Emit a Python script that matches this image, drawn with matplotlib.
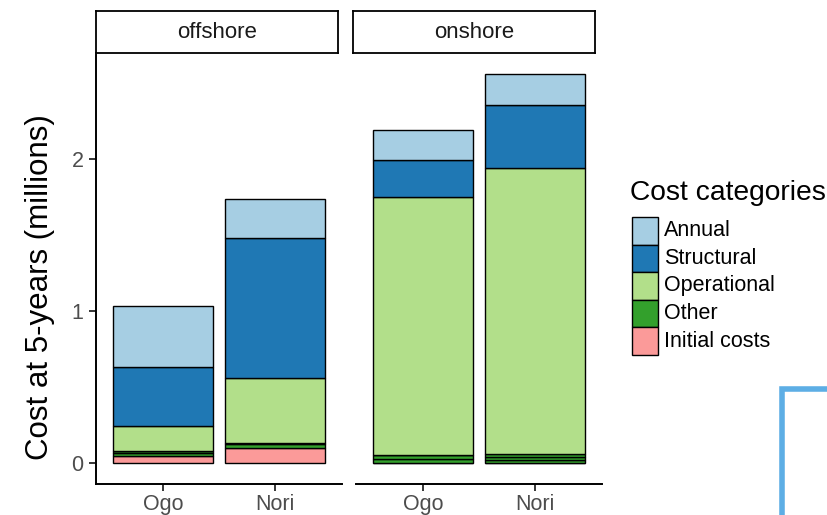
import numpy as np
import matplotlib
matplotlib.use("Agg")
import matplotlib.pyplot as plt
from matplotlib.patches import Rectangle
from matplotlib.lines import Line2D

plt.rcParams["font.family"] = ["Liberation Sans", "DejaVu Sans"]

# data (millions), one entry per bar: offshore Ogo, offshore Nori, onshore Ogo, onshore Nori
facets = ["offshore", "offshore", "onshore", "onshore"]
sites = ["Ogo", "Nori", "Ogo", "Nori"]
initial = [0.045, 0.098, 0.0, 0.0]
other_1 = [0.018, 0.028, 0.028, 0.020]
other_2 = [0.015, 0.005, 0.028, 0.020]
other_3 = [0.0, 0.0, 0.0, 0.020]
operational = [0.165, 0.426, 1.694, 1.880]
structural = [0.387, 0.925, 0.244, 0.414]
annual = [0.406, 0.256, 0.196, 0.203]

categories = ["Annual", "Structural", "Operational", "Other", "Initial costs"]
colors = {
    "Annual": "#A6CEE3",
    "Structural": "#1F78B4",
    "Operational": "#B2DF8A",
    "Other": "#33A02C",
    "Initial costs": "#FB9A99",
}
# stacking order bottom -> top
stack = [
    ("Initial costs", initial),
    ("Other", other_1),
    ("Other", other_2),
    ("Other", other_3),
    ("Operational", operational),
    ("Structural", structural),
    ("Annual", annual),
]

W, H = 828, 515
fig = plt.figure(figsize=(W / 100, H / 100), dpi=100)


def px(x0, y0, x1, y1):
    return [x0 / W, 1 - y1 / H, (x1 - x0) / W, (y1 - y0) / H]


tick_grey = "#4D4D4D"
panels = [("offshore", (96, 55, 342, 484), (96, 11, 338, 53)),
          ("onshore", (356, 55, 602, 484), (353, 11, 595, 53))]

for i, (name, pbox, sbox) in enumerate(panels):
    ax = fig.add_axes(px(*pbox))
    idx = [k for k, f in enumerate(facets) if f == name]
    xs = np.arange(1, len(idx) + 1)
    bottom = np.zeros(len(idx))
    for cat, vals in stack:
        v = np.array([vals[k] for k in idx])
        ax.bar(xs, v, width=0.9, bottom=bottom, color=colors[cat],
               edgecolor="black", linewidth=1.0)
        bottom += v
    ax.set_xlim(0.4, 2.6)
    ax.set_ylim(-0.138, 2.684)
    ax.set_xticks(xs)
    ax.set_xticklabels([sites[k] for k in idx], fontsize=15.5, color=tick_grey)
    ax.tick_params(axis="x", length=5, width=1.1, pad=2)
    for s in ["top", "right"]:
        ax.spines[s].set_visible(False)
    ax.spines["bottom"].set_linewidth(1.4)
    if i == 0:
        ax.set_yticks([0, 1, 2])
        ax.set_yticklabels(["0", "1", "2"], fontsize=15.5, color=tick_grey)
        ax.tick_params(axis="y", length=5, width=1.1, pad=4)
        ax.spines["left"].set_linewidth(1.4)
        ax.set_ylabel("Cost at 5-years (millions)", fontsize=22.5)
        ax.yaxis.set_label_coords(-0.165, 0.46)
    else:
        ax.spines["left"].set_visible(False)
        ax.set_yticks([])

    # facet strip
    sax = fig.add_axes(px(*sbox))
    sax.set_xticks([])
    sax.set_yticks([])
    for s in sax.spines.values():
        s.set_linewidth(1.3)
    sax.text(0.5, 0.5, name, ha="center", va="center", fontsize=16,
             color="#1A1A1A", transform=sax.transAxes)

# legend, drawn on an overlay in pixel coordinates
lax = fig.add_axes([0, 0, 1, 1], facecolor="none")
lax.set_xlim(0, W)
lax.set_ylim(H, 0)
lax.axis("off")
lax.text(630, 193, "Cost categories", fontsize=20.3, ha="left", va="center")
key_top, key_h = 217, 27.6
for j, cat in enumerate(categories):
    y0 = key_top + j * key_h
    lax.add_patch(Rectangle((632, y0), 26, key_h, facecolor=colors[cat],
                            edgecolor="black", linewidth=1.0))
    lax.text(664, y0 + key_h / 2, cat, fontsize=15.5, ha="left", va="center")

# blue frame fragment at the bottom right of the screenshot
lax.add_line(Line2D([782, 782, 828], [515, 389, 389], color="#5DAEE5",
                    linewidth=4, solid_joinstyle="miter"))

fig.savefig("out.png", dpi=100)
